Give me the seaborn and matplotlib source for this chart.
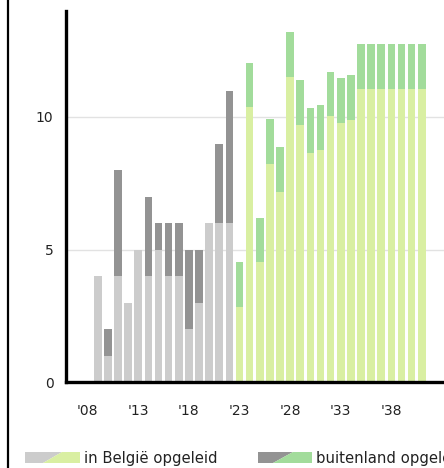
import numpy as np
import pandas as pd
import seaborn as sns
from matplotlib import pyplot as plt
from matplotlib.patches import Polygon
from matplotlib.lines import Line2D

# data
years = list(range(2009, 2042))
belgie = [4, 1, 4, 3, 5, 4, 5, 4, 4, 2, 3, 6, 6, 6,
          2.83, 10.38, 4.52, 8.22, 7.18, 11.5, 9.71, 8.66, 8.77, 10.03, 9.77, 9.9,
          11.05, 11.05, 11.05, 11.05, 11.05, 11.05, 11.05]
buitenland = [0, 1, 4, 0, 0, 3, 1, 2, 2, 3, 2, 0, 3, 5,
              1.69, 1.67, 1.65, 1.69, 1.7, 1.7, 1.69, 1.67, 1.67, 1.67, 1.7, 1.67,
              1.7, 1.7, 1.7, 1.7, 1.7, 1.7, 1.7]
periode = ["verleden"] * 14 + ["projectie"] * 19
tick_years = [2008, 2013, 2018, 2023, 2028, 2033, 2038]
tick_labels = ["'08", "'13", "'18", "'23", "'28", "'33", "'38"]
legend_labels = ["in België opgeleid", "buitenland opgeleid"]

light = {"verleden": "#cccccc", "projectie": "#d9efa2"}
dark = {"verleden": "#939393", "projectie": "#a2dc9b"}

df = pd.DataFrame({"year": years, "be": belgie, "bu": buitenland, "periode": periode})
df["total"] = df["be"] + df["bu"]

sns.set_style("white")
plt.rcParams["font.family"] = ["DejaVu Sans"]

W, H = 444, 468
fig = plt.figure(figsize=(W / 100, H / 100), dpi=100)
ax = fig.add_axes([66 / W, 1 - 382 / H, 1 - 66 / W, (382 - 11) / H])

sns.barplot(data=df, x="year", y="total", hue="periode", palette=dark, native_scale=True,
            width=0.75, dodge=False, errorbar=None, linewidth=0, saturation=1,
            legend=False, ax=ax)
sns.barplot(data=df, x="year", y="be", hue="periode", palette=light, native_scale=True,
            width=0.75, dodge=False, errorbar=None, linewidth=0, saturation=1,
            legend=False, ax=ax)

ax.set_xlim(2005.86, 2043.2)
ax.set_ylim(0, 14)
ax.set_xlabel("")
ax.set_ylabel("")

for v in [5, 10]:
    ax.axhline(v, color="#e2e2e2", lw=1, zorder=0)

for s in ["top", "right"]:
    ax.spines[s].set_visible(False)
for s in ["left", "bottom"]:
    ax.spines[s].set_linewidth(2.4)
    ax.spines[s].set_color("black")

ax.set_xticks(tick_years)
ax.set_xticklabels(tick_labels, fontsize=10, color="#222222")
ax.tick_params(axis="x", direction="inout", length=9, width=2.5, pad=11, colors="black",
               labelcolor="#222222")
ax.set_xticks([2005.86], minor=True)
ax.tick_params(axis="x", which="minor", direction="inout", length=9, width=2.5)
ax.set_yticks([0, 5, 10])
ax.set_yticklabels(["0", "5", "10"], fontsize=10, color="#222222")
ax.tick_params(axis="y", length=0, pad=9)
ax.set_axisbelow(False)

# left border line of the figure
fig.add_artist(Line2D([8 / W, 8 / W], [0, 1], color="black", lw=1.6))


def px(x, y):
    return (x / W, 1 - y / H)


def legend_patch(x0, x1, xb, xt, c1, c2):
    top, bot = 452, 463
    fig.add_artist(Polygon([px(x0, top), px(xt, top), px(xb, bot), px(x0, bot)],
                           closed=True, color=c1, lw=0))
    fig.add_artist(Polygon([px(xt, top), px(x1, top), px(x1, bot), px(xb, bot)],
                           closed=True, color=c2, lw=0))


legend_patch(25, 80, 43, 62, light["verleden"], light["projectie"])
legend_patch(258, 312, 273, 293, dark["verleden"], dark["projectie"])
fig.text(84 / W, 1 - 458 / H, legend_labels[0], fontsize=10.7, va="center", color="#222222")
fig.text(316 / W, 1 - 458 / H, legend_labels[1], fontsize=10.7, va="center", color="#222222")

fig.savefig("out.png", dpi=100)
